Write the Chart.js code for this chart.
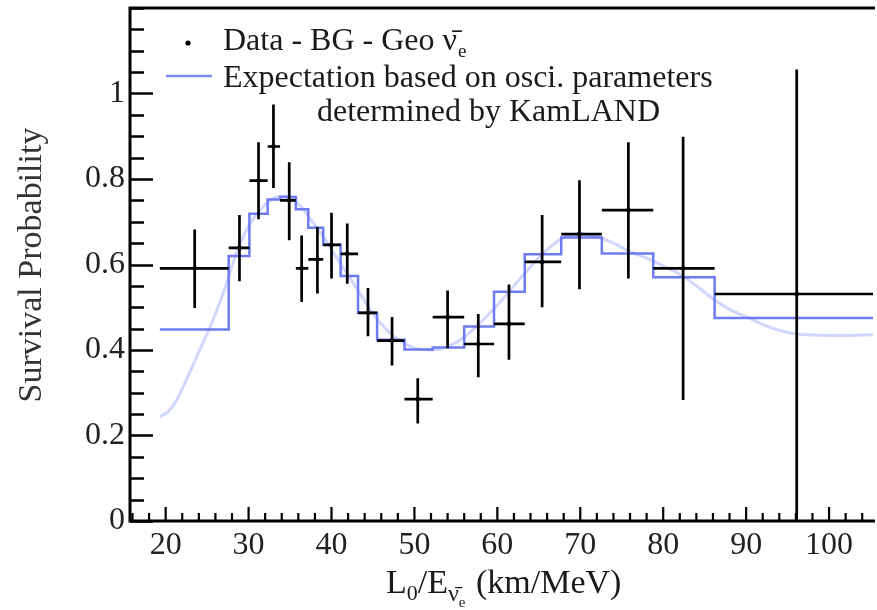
<!DOCTYPE html>
<html><head><meta charset="utf-8">
<script src="https://cdn.jsdelivr.net/npm/chart.js@4/dist/chart.umd.min.js"></script>
<style>html,body{margin:0;padding:0;background:#fff;overflow:hidden}#wrap{width:877px;height:610px;position:relative}</style>
</head><body><div id="wrap"><canvas id="c" width="877" height="610"></canvas></div>
<script>
// ---- data ----
const binLow  = [19.3, 27.6, 30.1, 32.3, 33.8, 35.7, 37.2, 39.0, 41.1, 43.2, 45.5, 48.8, 52.2, 56.0, 59.6, 63.3, 67.7, 72.6, 78.8, 86.2];
const binHigh = [27.6, 30.1, 32.3, 33.8, 35.7, 37.2, 39.0, 41.1, 43.2, 45.5, 48.8, 52.2, 56.0, 59.6, 63.3, 67.7, 72.6, 78.8, 86.2, 106.0];
const pointX  = [23.5, 28.9, 31.2, 33.0, 34.9, 36.4, 38.3, 40.0, 41.9, 44.4, 47.3, 50.4, 54.0, 57.7, 61.4, 65.4, 69.9, 75.8, 82.4, 96.1];
const pointY  = [0.591, 0.639, 0.796, 0.876, 0.750, 0.591, 0.612, 0.646, 0.625, 0.487, 0.422, 0.285, 0.477, 0.414, 0.461, 0.606, 0.671, 0.727, 0.591, 0.531];
const errLow  = [0.498, 0.561, 0.706, 0.779, 0.657, 0.512, 0.532, 0.567, 0.555, 0.432, 0.364, 0.228, 0.404, 0.336, 0.377, 0.500, 0.542, 0.567, 0.283, 0.0];
const errHigh = [0.682, 0.716, 0.886, 0.974, 0.839, 0.668, 0.688, 0.721, 0.696, 0.545, 0.477, 0.334, 0.539, 0.484, 0.553, 0.716, 0.797, 0.886, 0.899, 1.056];
const expectStep = [0.448, 0.620, 0.719, 0.752, 0.758, 0.729, 0.686, 0.646, 0.573, 0.487, 0.424, 0.401, 0.406, 0.455, 0.536, 0.624, 0.663, 0.626, 0.570, 0.475];
const curveX = [19.3, 20.3, 21.3, 22.5, 24, 25.3, 26.5, 27.5, 28.5, 30, 31.5, 33, 34.5, 36, 37.5, 39, 40.5, 42, 43.5, 45, 46.5, 48, 50, 52, 54, 56, 58, 60, 62, 64, 66, 68, 70, 72, 74, 76, 78, 80, 82, 84, 86, 88, 90, 92, 94, 96, 98, 100, 102, 105.3];
const curveY = [0.244, 0.256, 0.282, 0.33, 0.395, 0.451, 0.51, 0.565, 0.625, 0.69, 0.73, 0.755, 0.76, 0.742, 0.705, 0.665, 0.62, 0.575, 0.53, 0.485, 0.45, 0.425, 0.405, 0.4, 0.408, 0.43, 0.465, 0.505, 0.55, 0.595, 0.635, 0.663, 0.672, 0.665, 0.65, 0.63, 0.615, 0.597, 0.577, 0.55, 0.52, 0.495, 0.478, 0.46, 0.446, 0.438, 0.435, 0.434, 0.434, 0.436];
const xTickValues = [20, 30, 40, 50, 60, 70, 80, 90, 100];
const xTickLabels = ['20', '30', '40', '50', '60', '70', '80', '90', '100'];
const yTickValues = [0, 0.2, 0.4, 0.6, 0.8, 1.0];
const yTickLabels = ['0', '0.2', '0.4', '0.6', '0.8', '1'];
const legendData = 'Data - BG - Geo \u03BD\u0304';
const legendDataSub = 'e';
const legendExp1 = 'Expectation based on osci. parameters';
const legendExp2 = 'determined by KamLAND';
const yTitle = 'Survival Probability';
const xTitleParts = ['L', '0', '/E', '\u03BD\u0304', 'e', ' (km/MeV)'];

const SERIF = '"Liberation Serif", "Times New Roman", serif';
const xMinorStep = 2, yMinorStep = 0.05;

const stepData = binLow.map((x, i) => ({x: x, y: expectStep[i]}));
stepData.push({x: binHigh[binHigh.length - 1], y: expectStep[expectStep.length - 1]});

const decor = {
  id: 'decor',
  afterDatasetsDraw(chart) {
    const {ctx, chartArea: a, scales: {x, y}} = chart;
    ctx.save();
    ctx.beginPath(); ctx.rect(a.left, a.top, a.right - a.left, a.bottom - a.top); ctx.clip();
    ctx.strokeStyle = '#000'; ctx.lineWidth = 2.7; ctx.lineCap = 'butt';
    for (let i = 0; i < pointX.length; i++) {
      const px = x.getPixelForValue(pointX[i]), py = y.getPixelForValue(pointY[i]);
      ctx.beginPath();
      ctx.moveTo(x.getPixelForValue(binLow[i]), py); ctx.lineTo(x.getPixelForValue(binHigh[i]), py);
      ctx.moveTo(px, y.getPixelForValue(errLow[i])); ctx.lineTo(px, y.getPixelForValue(errHigh[i]));
      ctx.stroke();
    }
    ctx.restore();
  },
  afterDraw(chart) {
    const {ctx, chartArea: a, scales: {x, y}} = chart;
    ctx.save();
    // frame
    ctx.strokeStyle = '#000'; ctx.lineWidth = 3;
    ctx.beginPath();
    ctx.moveTo(a.right + 2, a.top); ctx.lineTo(a.left, a.top); ctx.lineTo(a.left, a.bottom); ctx.lineTo(a.right + 2, a.bottom);
    ctx.stroke();
    // y ticks (inward)
    ctx.lineWidth = 2.6;
    ctx.beginPath();
    for (let v = 0; v <= 1.2001; v += yMinorStep) {
      const major = yTickValues.some(t => Math.abs(t - v) < 1e-6);
      const py = Math.round(y.getPixelForValue(v)) + 0.5;
      ctx.moveTo(a.left, py); ctx.lineTo(a.left + (major ? 23 : 14), py);
    }
    ctx.stroke();
    // x ticks (inward)
    ctx.lineWidth = 2.2;
    ctx.beginPath();
    for (let v = 16; v <= 105; v += xMinorStep) {
      const major = xTickValues.indexOf(v) >= 0;
      const px = x.getPixelForValue(v);
      ctx.moveTo(px, a.bottom); ctx.lineTo(px, a.bottom - (major ? 14 : 8));
    }
    ctx.stroke();
    // legend
    ctx.fillStyle = '#000';
    ctx.beginPath(); ctx.arc(188, 43, 2.6, 0, Math.PI * 2); ctx.fill();
    ctx.strokeStyle = '#7f8cf3'; ctx.lineWidth = 2.5;
    ctx.beginPath(); ctx.moveTo(166, 76); ctx.lineTo(212, 76); ctx.stroke();
    ctx.fillStyle = '#1a1a1a';
    ctx.textAlign = 'left'; ctx.textBaseline = 'alphabetic';
    ctx.font = '32px ' + SERIF;
    ctx.fillText(legendData, 223, 50);
    const w1 = ctx.measureText(legendData).width;
    ctx.fillText(legendExp1, 223, 87);
    ctx.fillText(legendExp2, 317, 121);
    ctx.font = '19px ' + SERIF;
    ctx.fillText(legendDataSub, 223 + w1 + 1, 57);
    // x title
    let cx = 386;
    const specs = [[34, 593], [22, 600], [34, 593], [24, 601], [15, 607], [34, 593]];
    xTitleParts.forEach((t, i) => {
      ctx.font = specs[i][0] + 'px ' + SERIF;
      ctx.fillText(t, cx, specs[i][1]);
      cx += ctx.measureText(t).width + (i === 4 ? 2 : 0);
    });
    // y title
    ctx.fillStyle = '#333';
    ctx.font = '34px ' + SERIF;
    ctx.translate(41, 265); ctx.rotate(-Math.PI / 2);
    ctx.textAlign = 'center';
    ctx.fillText(yTitle, 0, 0);
    ctx.restore();
  }
};

new Chart(document.getElementById('c'), {
  type: 'line',
  data: {
    datasets: [
      {label: 'Data - BG - Geo \u03BD\u0304e', data: pointX.map((v, i) => ({x: v, y: pointY[i]})), showLine: false,
       pointRadius: 2.3, pointBackgroundColor: '#000', pointBorderWidth: 0, order: 0},
      {label: 'Expectation (binned)', data: stepData, stepped: true, borderColor: '#6e7cf3', borderWidth: 2.5,
       pointRadius: 0, fill: false, order: 1},
      {label: 'Expectation', data: curveX.map((v, i) => ({x: v, y: curveY[i]})), borderColor: 'rgba(150,165,250,0.45)',
       borderWidth: 3, pointRadius: 0, fill: false, cubicInterpolationMode: 'monotone', order: 2}
    ]
  },
  options: {
    responsive: false, animation: false, devicePixelRatio: 1,
    layout: {padding: {top: 8, right: 0, left: 0, bottom: 0}},
    plugins: {legend: {display: false}, tooltip: {enabled: false}},
    scales: {
      x: {type: 'linear', min: 15.7, max: 105.3,
          afterBuildTicks: s => { s.ticks = xTickValues.map(v => ({value: v})); },
          afterFit: s => { s.height = 89; s.paddingLeft = 0; s.paddingRight = 0; },
          ticks: {callback: (v, i) => xTickLabels[i], autoSkip: false, maxRotation: 0, padding: 5,
                  font: {family: SERIF, size: 32}, color: '#222'},
          grid: {display: false, drawTicks: false}, border: {display: false}},
      y: {type: 'linear', min: 0, max: 1.2,
          afterBuildTicks: s => { s.ticks = yTickValues.map(v => ({value: v})); },
          afterFit: s => { s.width = 130; s.paddingTop = 0; s.paddingBottom = 0; },
          ticks: {callback: (v, i) => yTickLabels[i], padding: 5, font: {family: SERIF, size: 32}, color: '#222'},
          grid: {display: false, drawTicks: false}, border: {display: false}}
    }
  },
  plugins: [decor]
});
</script></body></html>
